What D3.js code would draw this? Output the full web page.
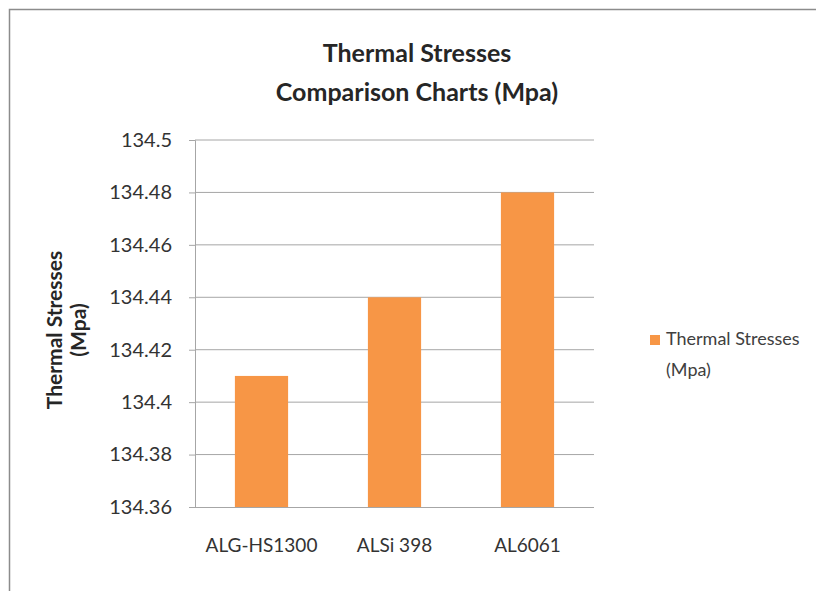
<!DOCTYPE html>
<html>
<head>
<meta charset="utf-8">
<script src="https://cdn.jsdelivr.net/npm/d3@7"></script>
<style>
  body { margin: 0; background: #fff; }
  text { font-family: Lato, "Open Sans", sans-serif; fill: #333; }
</style>
</head>
<body>
<div id="chart"></div>
<script>
// chart data
const materials = ["ALG-HS1300", "ALSi 398", "AL6061"];
const thermalStresses = [134.41, 134.44, 134.48];
const yTicks = [134.36, 134.38, 134.4, 134.42, 134.44, 134.46, 134.48, 134.5];

const W = 816, H = 591;
const plot = { left: 195, right: 594, top: 140, bottom: 507 };

const svg = d3.select("#chart")
  .append("svg")
  .attr("width", W)
  .attr("height", H);

// outer chart frame
svg.append("rect")
  .attr("x", 9.5).attr("y", 9.5)
  .attr("width", W + 20).attr("height", H + 20)
  .attr("fill", "#fff")
  .attr("stroke", "#8c8c8c")
  .attr("stroke-width", 1.5);

// scales
const x = d3.scaleBand()
  .domain(materials)
  .range([plot.left, plot.right])
  .paddingInner(0.6)
  .paddingOuter(0.3);

const y = d3.scaleLinear()
  .domain([134.36, 134.5])
  .range([plot.bottom, plot.top]);

// gridlines
svg.append("g")
  .selectAll("line")
  .data(yTicks.slice(1))
  .join("line")
  .attr("x1", plot.left).attr("x2", plot.right)
  .attr("y1", d => y(d)).attr("y2", d => y(d))
  .attr("stroke", "#a6a6a6")
  .attr("stroke-width", 1);

// bars
svg.append("g")
  .selectAll("rect")
  .data(materials)
  .join("rect")
  .attr("x", d => x(d))
  .attr("width", x.bandwidth())
  .attr("y", (d, i) => y(thermalStresses[i]))
  .attr("height", (d, i) => plot.bottom - y(thermalStresses[i]))
  .attr("fill", "#f79646");

// y axis
const yAxis = svg.append("g")
  .attr("transform", "translate(" + plot.left + ",0)")
  .call(d3.axisLeft(y).tickValues(yTicks).tickSize(6).tickPadding(17)
    .tickFormat(d => String(+d.toFixed(2))));
yAxis.select(".domain").attr("stroke", "#a6a6a6");
yAxis.selectAll(".tick line").attr("stroke", "#a6a6a6");
yAxis.selectAll(".tick text")
  .attr("font-size", 20)
  .attr("font-family", "Lato, sans-serif")
  .attr("fill", "#404040");

// x axis
const xAxis = svg.append("g")
  .attr("transform", "translate(0," + plot.bottom + ")")
  .call(d3.axisBottom(x).tickSize(0).tickPadding(32));
xAxis.select(".domain")
  .attr("d", "M" + plot.left + ",0.5H" + plot.right)
  .attr("stroke", "#a6a6a6");
xAxis.selectAll(".tick text")
  .attr("font-size", 19)
  .attr("font-family", "Lato, sans-serif")
  .attr("fill", "#404040");

// title
svg.append("text")
  .attr("x", 417).attr("y", 62)
  .attr("text-anchor", "middle")
  .attr("font-size", 25).attr("font-weight", "bold")
  .style("fill", "#262626")
  .text("Thermal Stresses");
svg.append("text")
  .attr("x", 417).attr("y", 101)
  .attr("text-anchor", "middle")
  .attr("font-size", 25).attr("font-weight", "bold")
  .style("fill", "#262626")
  .text("Comparison Charts (Mpa)");

// y axis title
const yTitle = svg.append("text")
  .attr("transform", "translate(62,330) rotate(-90)")
  .attr("text-anchor", "middle")
  .attr("font-size", 21).attr("font-weight", "bold")
  .style("fill", "#262626");
yTitle.append("tspan").attr("x", 0).attr("dy", 0).text("Thermal Stresses");
yTitle.append("tspan").attr("x", 0).attr("dy", 24).text("(Mpa)");

// legend
const legend = svg.append("g").attr("transform", "translate(650,335)");
legend.append("rect")
  .attr("width", 10).attr("height", 10)
  .attr("fill", "#f79646");
legend.append("text")
  .attr("x", 16).attr("y", 10)
  .attr("font-size", 18)
  .style("fill", "#404040")
  .text("Thermal Stresses");
legend.append("text")
  .attr("x", 16).attr("y", 41)
  .attr("font-size", 18)
  .style("fill", "#404040")
  .text("(Mpa)");
</script>
</body>
</html>
